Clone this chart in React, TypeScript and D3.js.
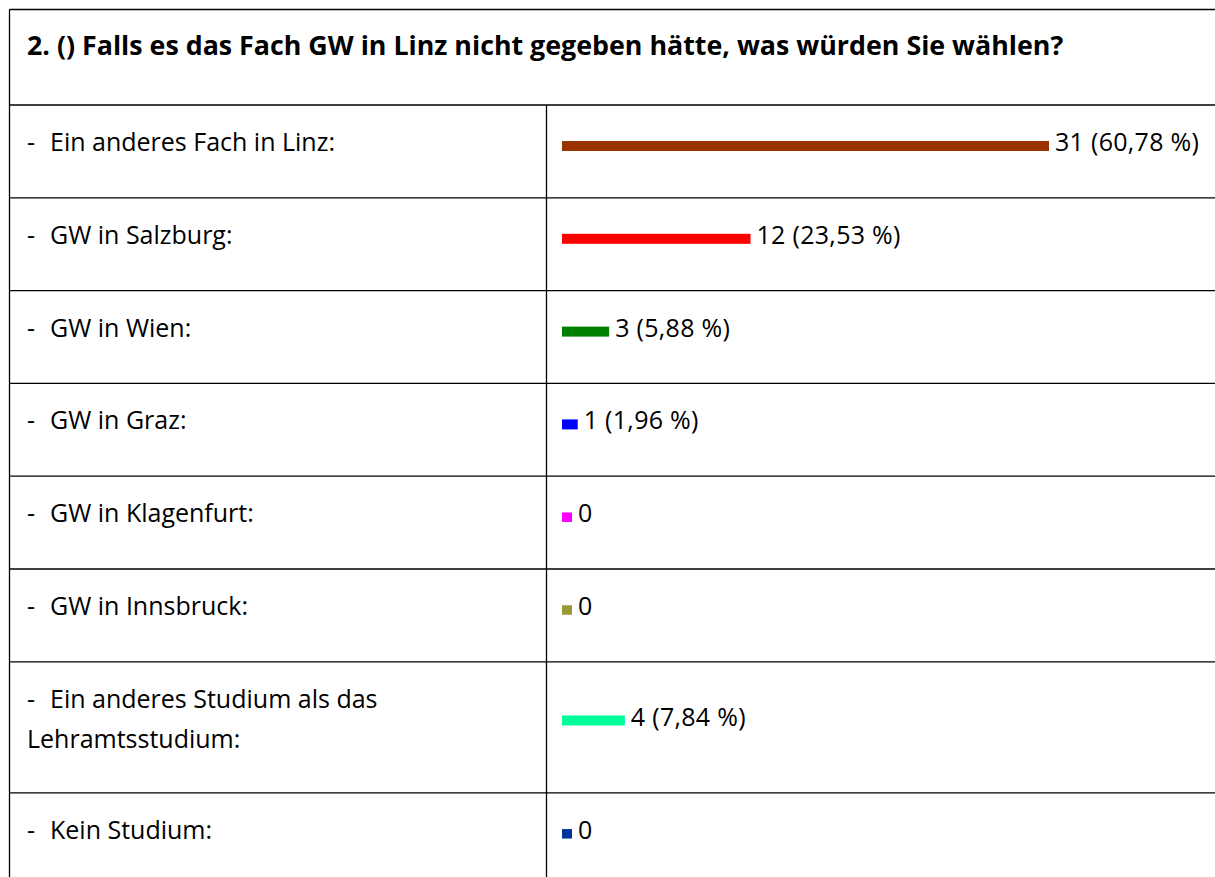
import React from 'react';
import * as d3 from 'd3';

const title = '2. () Falls es das Fach GW in Linz nicht gegeben hätte, was würden Sie wählen?';

// each label as its lines, first line carries the dash
const labels = [
  ['Ein anderes Fach in Linz:'],
  ['GW in Salzburg:'],
  ['GW in Wien:'],
  ['GW in Graz:'],
  ['GW in Klagenfurt:'],
  ['GW in Innsbruck:'],
  ['Ein anderes Studium als das', 'Lehramtsstudium:'],
  ['Kein Studium:'],
];
const counts = [31, 12, 3, 1, 0, 0, 4, 0];
const percents = ['60,78', '23,53', '5,88', '1,96', '', '', '7,84', ''];
const colors = ['#993300', '#ff0000', '#008000', '#0000ff', '#ff00ff', '#999933', '#00ff99', '#003399'];

const W = 1215;
const H = 877;

const App = () => {
  const left = 9.5;
  const divider = 546.5;
  const top = 9.5;
  const titleH = 95.5;
  const rowH = 92.8;
  const extraLine = 38.2;

  // row tops from the number of text lines in each label
  const rowTops: number[] = [];
  let y = top + titleH;
  labels.forEach(l => {
    rowTops.push(y);
    y += rowH + (l.length - 1) * extraLine;
  });

  const x = d3.scaleLinear().domain([0, d3.max(counts) as number]).range([0, 487]);
  const barX = 562;
  const minW = 10;

  const font = '"Open Sans", "Noto Sans", sans-serif';

  return (
    <svg width={W} height={H} style={{ position: 'absolute', left: 0, top: 0, background: '#fff' }}>
      <rect x={0} y={0} width={W} height={H} fill="#fff" />
      {/* table lines */}
      <line x1={left} x2={W} y1={top} y2={top} stroke="#000" strokeWidth={1.3} />
      <line x1={left} x2={left} y1={top} y2={H} stroke="#000" strokeWidth={1.3} />
      <line x1={divider} x2={divider} y1={top + titleH} y2={H} stroke="#000" strokeWidth={1.3} />
      {rowTops.map((t, i) => (
        <line key={'h' + i} x1={left} x2={W} y1={t} y2={t} stroke="#000" strokeWidth={1.3} />
      ))}

      <text x={27} y={55} fontFamily={font} fontWeight="bold" fontSize={26.8} fill="#000">
        {title}
      </text>

      {labels.map((lines, i) => {
        const t = rowTops[i];
        const base = t + 46;
        const barCy = t + 41 + (lines.length - 1) * 17.7;
        const w = Math.max(x(counts[i]), minW);
        const h = counts[i] === 0 ? 9.5 : 10;
        const txt = counts[i] === 0 ? '0' : `${counts[i]} (${percents[i]} %)`;
        return (
          <g key={i} fontFamily={font} fontSize={25} fill="#000">
            <text x={27} y={base}>-</text>
            {lines.map((s, j) => (
              <text key={j} x={j === 0 ? 50 : 27} y={base + j * 40}>
                {s}
              </text>
            ))}
            <rect x={barX} y={barCy - h / 2} width={w} height={h} fill={colors[i]} />
            <text x={barX + w + 6} y={barCy + 5} letterSpacing={0.3}>
              {txt}
            </text>
          </g>
        );
      })}
    </svg>
  );
};

export default App;
